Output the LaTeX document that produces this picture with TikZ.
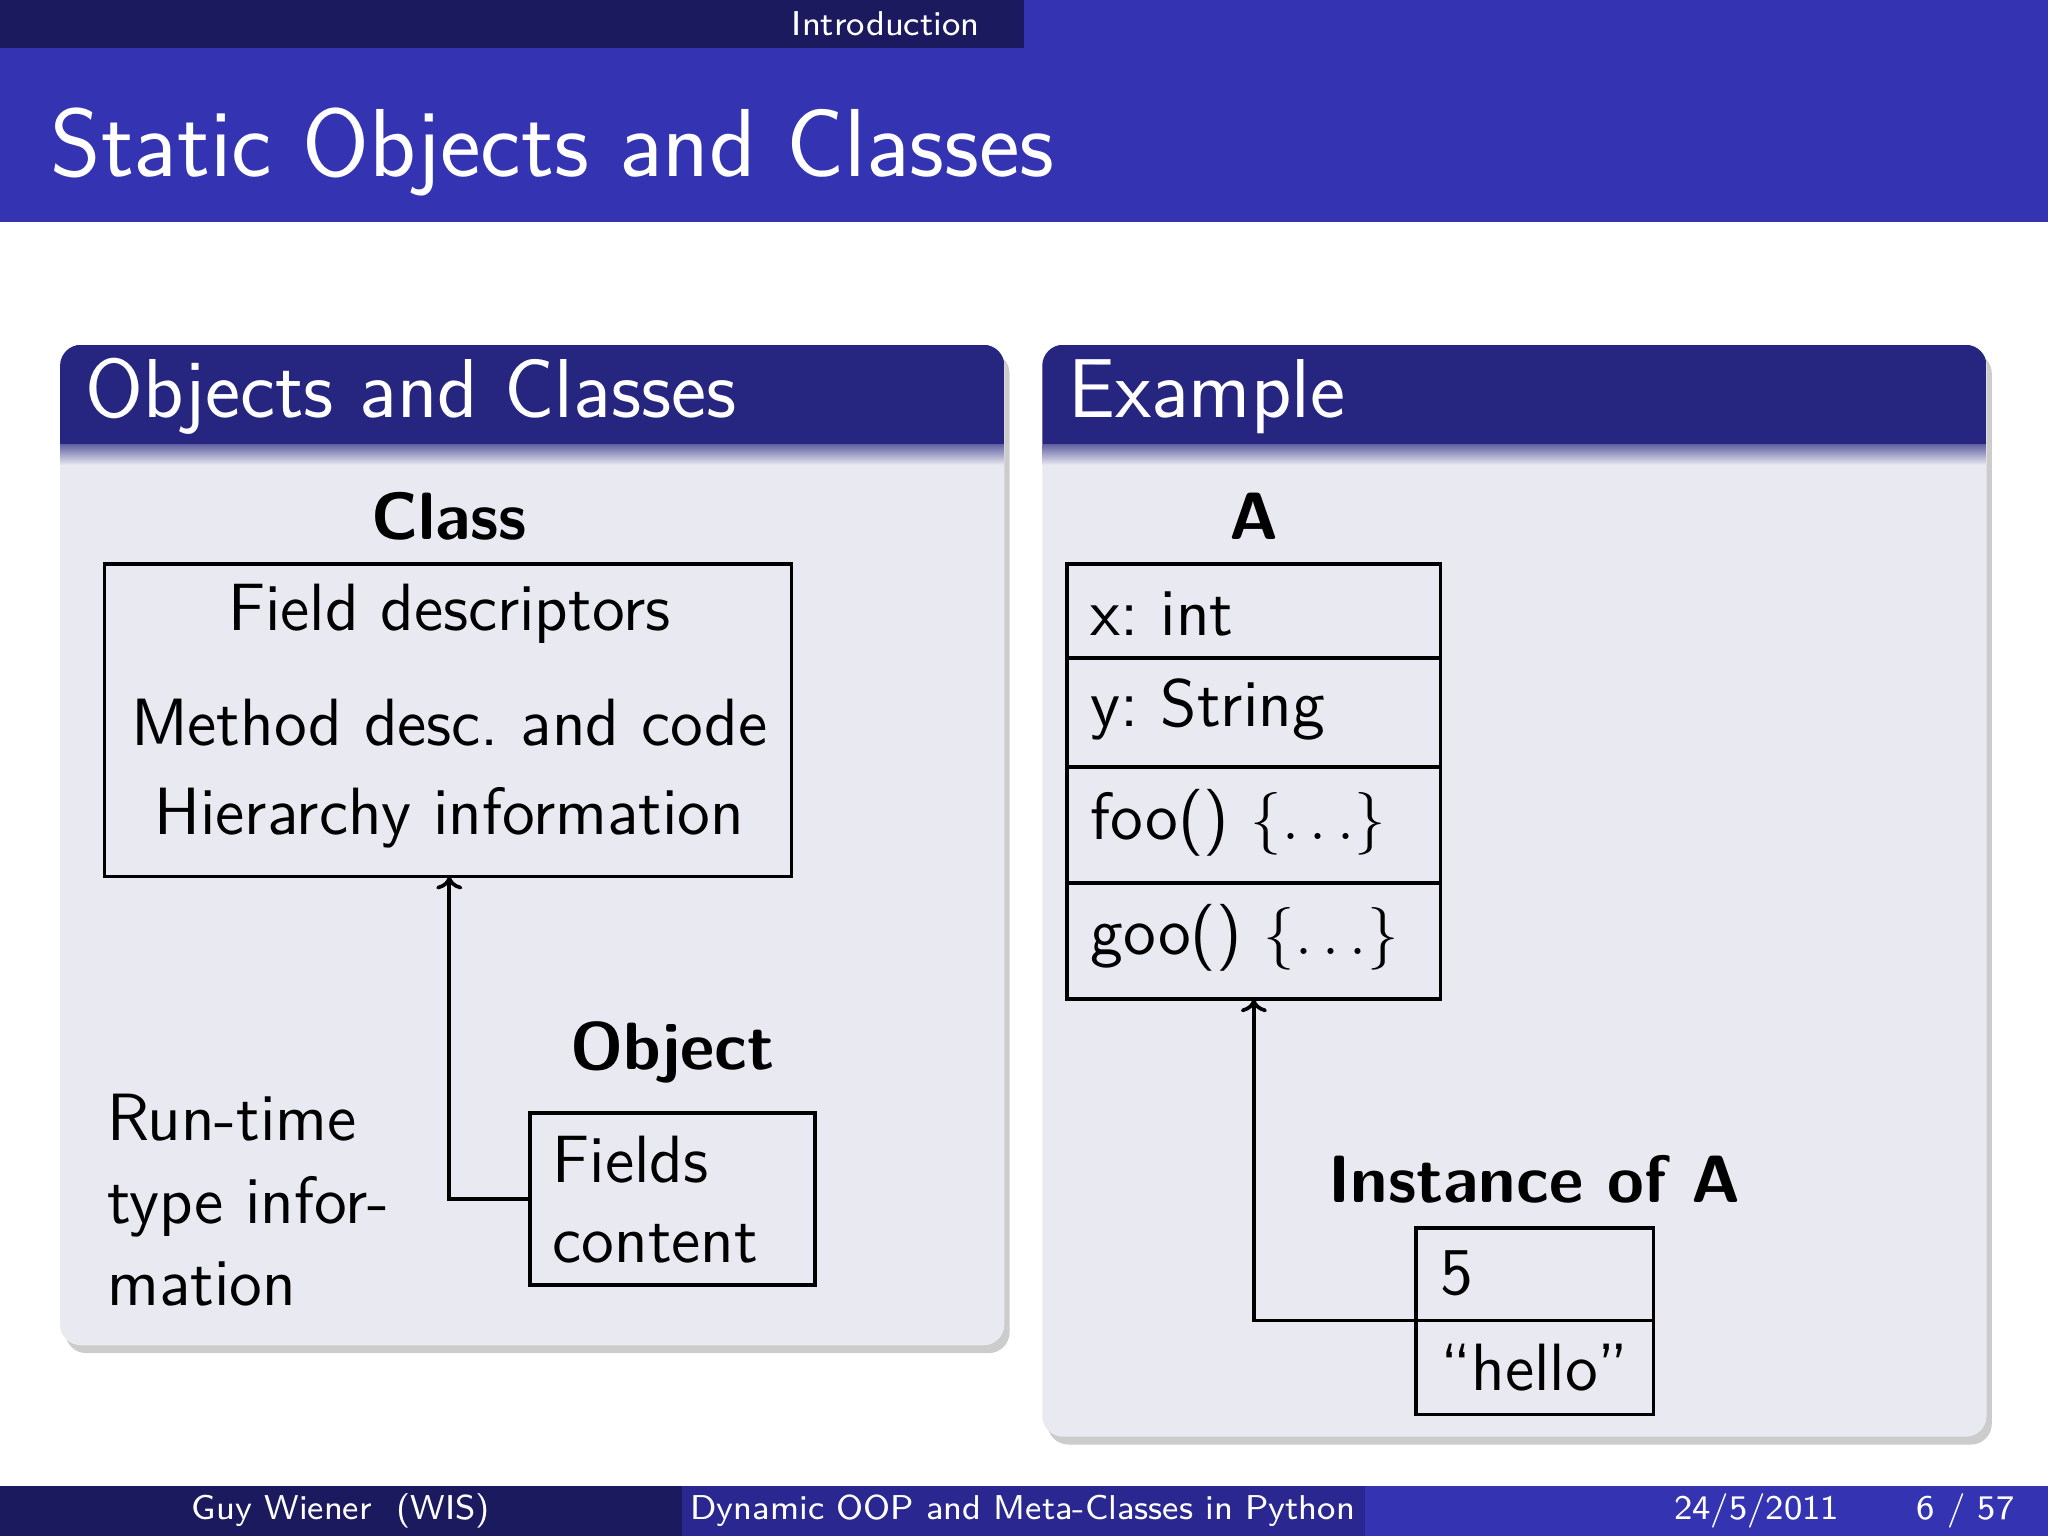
\documentclass[tikz,border=0pt]{standalone}
\usetikzlibrary{shadows,arrows.meta}
\definecolor{navy}{HTML}{1C1A5E}
\definecolor{midb}{HTML}{2A2890}
\definecolor{strb}{HTML}{3434B2}
\definecolor{blkt}{HTML}{262680}
\definecolor{blkb}{HTML}{E9E9F1}
\begin{document}
\begin{tikzpicture}[x=0.25pt,y=-0.25pt,font=\sffamily,
  body/.style={font=\sffamily\fontsize{12.8}{15}\selectfont},
  bhead/.style={font=\sffamily\bfseries\fontsize{12.8}{15}\selectfont},
  cell/.style={draw,line width=0.7pt,minimum width=286*0.25pt,inner sep=0pt},
  conn/.style={line width=0.7pt,-{To[length=2.5pt,width=5pt]}}]
\useasboundingbox (0,0) rectangle (1568,1176);
\fill[white] (0,0) rectangle (1568,1176);
% headline
\fill[navy] (0,0) rectangle (784,37);
\fill[strb] (784,0) rectangle (1568,37);
\node[white,anchor=east,font=\sffamily\fontsize{6.6}{8}\selectfont] (hl) at (764,18) {Introduction};
\fill[strb] (0,37) rectangle (1568,170);
\node[white,anchor=base west,inner sep=0pt,font=\sffamily\fontsize{18.5}{21}\selectfont] (ttl) at (38,135) {Static Objects and Classes};
% blocks
\foreach \xa/\xb/\yb in {46/769/1030,798/1521/1100}{
  \fill[blkb,rounded corners=4pt,drop shadow={shadow xshift=1pt,shadow yshift=-1.5pt,opacity=0.4}] (\xa,264) rectangle (\xb,\yb);
  \begin{scope}
  \clip[rounded corners=4pt] (\xa,264) rectangle (\xb,\yb);
  \fill[blkt] (\xa,264) rectangle (\xb,340);
  \shade[top color=blkt!70!blkb,bottom color=blkb] (\xa,340) rectangle (\xb,356);
  \end{scope}
}
\node[white,anchor=base west,inner sep=0pt,font=\sffamily\fontsize{16}{18}\selectfont] (bt1) at (65,320) {Objects and Classes};
\node[white,anchor=base west,inner sep=0pt,font=\sffamily\fontsize{16}{18}\selectfont] (bt2) at (817,320) {Example};
% left content
\node[bhead] (cl) at (344,395) {Class};
\node[draw,line width=0.7pt,minimum width=526*0.25pt,minimum height=239*0.25pt] (cbox) at (343,551.5) {};
\node[body] (t1) at (344,470) {Field descriptors};
\node[body] (t2) at (344,553) {Method desc.\ and code};
\node[body] (t3) at (344,626) {Hierarchy information};
\node[bhead] (ob) at (515,806) {Object};
\node[draw,line width=0.7pt,minimum width=218*0.25pt,minimum height=132*0.25pt] (obox) at (515,918) {};
\node[body,anchor=west] (f1) at (409,888) {Fields};
\node[body,anchor=west] (f2) at (409,952) {content};
\node[body,anchor=west,align=left,font=\sffamily\fontsize{12.8}{15.8}\selectfont] (rt) at (68,919) {Run-time\\type infor-\\mation};
\coordinate (cb) at (344,671);
\draw[conn] (obox.west) -- (344,918) -- (cb);
% right content
\node[bhead] (A) at (960,395) {A};
\node[cell,minimum height=72*0.25pt] (r1) at (960,468) {};
\node[cell,minimum height=83*0.25pt] (r2) at (960,545.5) {};
\node[cell,minimum height=89*0.25pt] (r3) at (960,631.5) {};
\node[cell,minimum height=89*0.25pt] (r4) at (960,720.5) {};
\node[body,anchor=west] at (821,470) {x:~int};
\node[body,anchor=west] at (821,543) {y:~String};
\node[body,anchor=west] at (821,630) {foo() $\{\ldots\}$};
\node[body,anchor=west] at (821,718) {goo() $\{\ldots\}$};
\node[bhead] (inst) at (1175,903) {Instance of A};
\node[draw,line width=0.7pt,minimum width=182*0.25pt,minimum height=71*0.25pt] (i1) at (1175,975.5) {};
\node[draw,line width=0.7pt,minimum width=182*0.25pt,minimum height=72*0.25pt] (i2) at (1175,1047) {};
\node[body,anchor=west] at (1089,975) {5};
\node[body] at (1175,1047) {``hello''};
\coordinate (ab) at (960,765);
\draw[conn] (1084,1011) -- (960,1011) -- (ab);
% footer
\fill[navy] (0,1138) rectangle (522,1176);
\fill[midb] (522,1138) rectangle (1045,1176);
\fill[strb] (1045,1138) rectangle (1568,1176);
\begin{scope}[every node/.style={white,font=\sffamily\fontsize{6.6}{8}\selectfont}]
\node (fa) at (261,1157) {Guy Wiener\ \ (WIS)};
\node (fb) at (783,1157) {Dynamic OOP and Meta-Classes in Python};
\node (fc) at (1345,1157) {24/5/2011};
\node (fd) at (1505,1157) {6 / 57};
\end{scope}
\end{tikzpicture}
\end{document}
